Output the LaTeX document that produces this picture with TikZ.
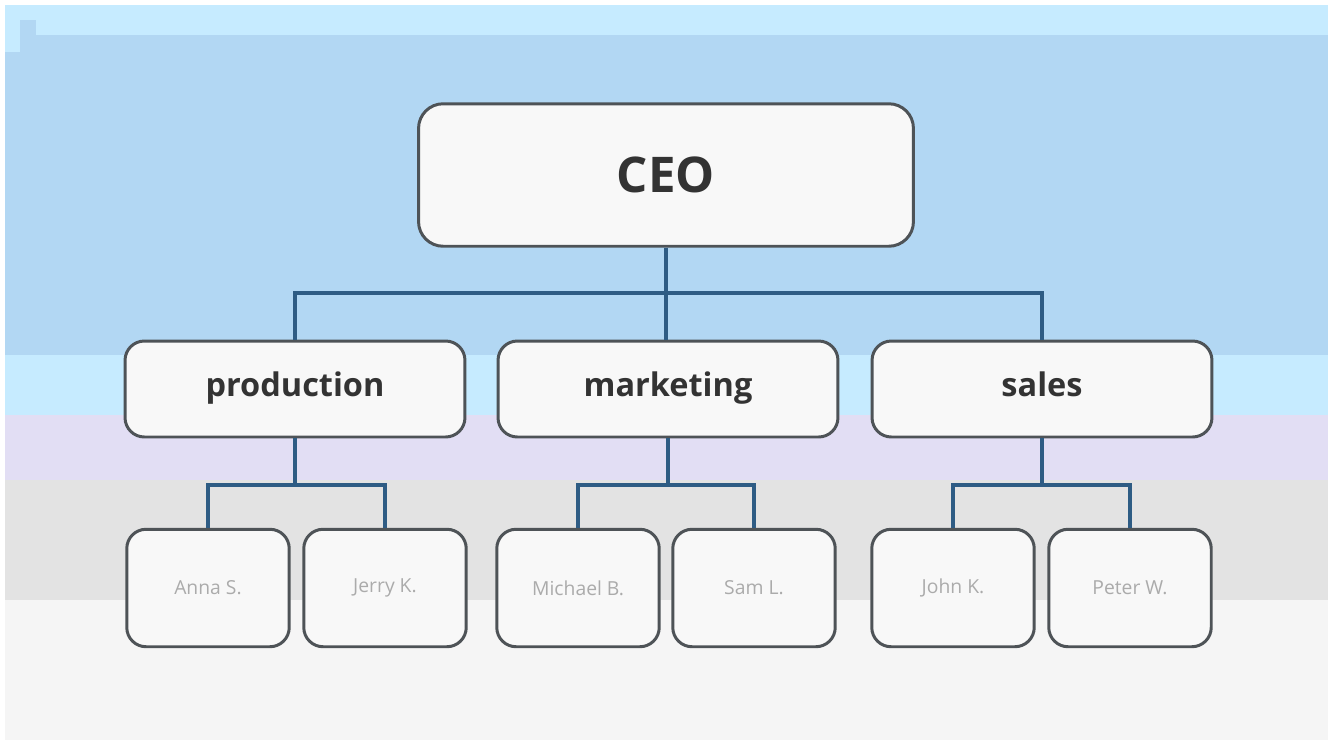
\documentclass[tikz,border=0pt]{standalone}
\usepackage{fontspec}
\setmainfont{Open Sans}
\usepackage{tikz}

\definecolor{skytop}{HTML}{C6EBFF}
\definecolor{skyband}{HTML}{B2D7F3}
\definecolor{lavband}{HTML}{E2DEF4}
\definecolor{greyband}{HTML}{E3E3E3}
\definecolor{floor}{HTML}{F5F5F5}
\definecolor{boxfill}{HTML}{F8F8F8}
\definecolor{boxline}{HTML}{4E5357}
\definecolor{wire}{HTML}{2E5C84}
\definecolor{inktext}{HTML}{333333}
\definecolor{faintname}{HTML}{ABABAB}

\tikzset{
  chief/.style={draw=boxline, line width=1.7pt, fill=boxfill, rounded corners=14pt,
    minimum width=9.9cm, minimum height=2.85cm, text=inktext,
    font=\fontsize{28}{30}\selectfont\bfseries},
  dept/.style={draw=boxline, line width=1.7pt, fill=boxfill, rounded corners=11pt,
    minimum width=6.8cm, minimum height=1.92cm, text=inktext,
    text height=1.9ex, text depth=0.3ex,
    font=\fontsize{18.5}{20}\selectfont\bfseries},
  staff/.style={draw=boxline, line width=1.7pt, fill=boxfill, rounded corners=11pt,
    minimum width=3.25cm, minimum height=2.35cm, text=faintname,
    font=\fontsize{11}{12}\selectfont},
  wiring/.style={draw=wire, line width=2.2pt}
}

\begin{document}
\begin{tikzpicture}[x=0.02cm,y=-0.02cm]
  \useasboundingbox (0,0) rectangle (1333,745);
  % background bands
  \fill[white] (0,0) rectangle (1333,745);
  \fill[skytop] (5,5) rectangle (1328,35);
  \fill[skyband] (5,35) rectangle (1328,355);
  \fill[skytop] (5,35) rectangle (20,52);
  \fill[skyband] (20,20) rectangle (36,35);
  \fill[skytop] (5,355) rectangle (1328,415);
  \fill[lavband] (5,415) rectangle (1328,480);
  \fill[greyband] (5,480) rectangle (1328,600);
  \fill[floor] (5,600) rectangle (1328,740);

  % boxes
  \node[chief] (ceo) at (666,175) {CEO};

  \node[dept] (production) at (295,389) {production};
  \node[dept] (marketing) at (668,389) {marketing};
  \node[dept] (sales) at (1042,389) {sales};

  \node[staff] (anna) at (208,588) {Anna S.};
  \node[staff] (jerry) at (385,588) {Jerry K.};
  \node[staff] (michael) at (578,588) {Michael B.};
  \node[staff] (sam) at (754,588) {Sam L.};
  \node[staff] (john) at (953,588) {John K.};
  \node[staff] (peter) at (1130,588) {Peter W.};

  % connectors
  \coordinate (topbus) at (666,293);
  \coordinate (pbus) at (295,485);
  \coordinate (mbus) at (668,485);
  \coordinate (sbus) at (1042,485);

  \draw[wiring] (ceo.south) -- (ceo.south |- marketing.north);
  \draw[wiring] (production.north) |- (topbus) -| (sales.north);

  \draw[wiring] (production.south) -- (pbus);
  \draw[wiring] (anna.north) |- (pbus) -| (jerry.north);
  \draw[wiring] (marketing.south) -- (mbus);
  \draw[wiring] (michael.north) |- (mbus) -| (sam.north);
  \draw[wiring] (sales.south) -- (sbus);
  \draw[wiring] (john.north) |- (sbus) -| (peter.north);
\end{tikzpicture}
\end{document}
